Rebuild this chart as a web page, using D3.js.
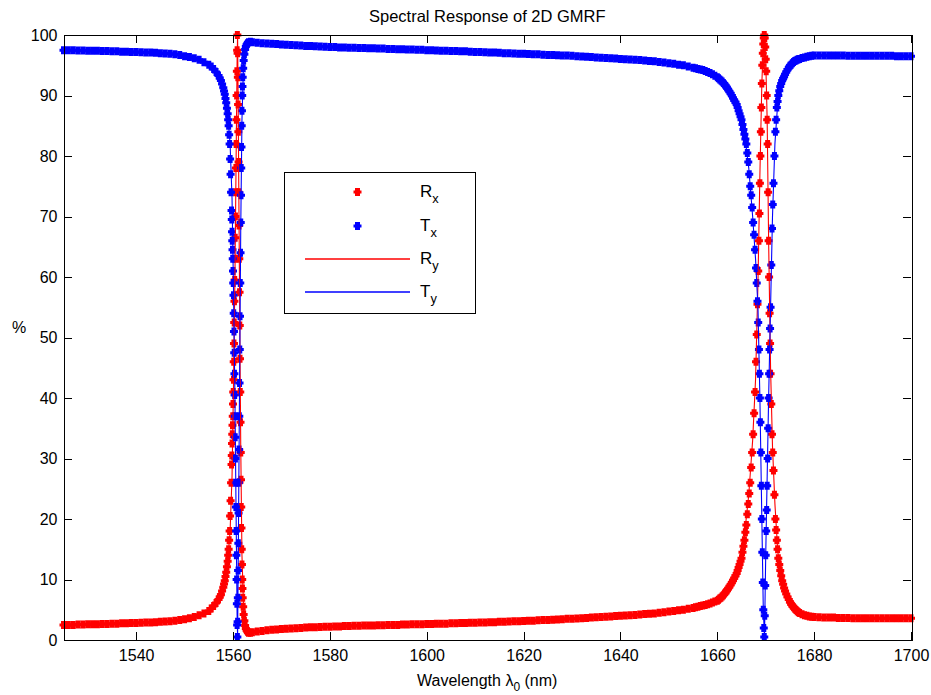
<!DOCTYPE html>
<html>
<head>
<meta charset="utf-8">
<script src="https://cdn.jsdelivr.net/npm/d3@7"></script>
<style>
  html, body { margin: 0; padding: 0; background: #ffffff; }
  svg { display: block; font-family: "Liberation Sans", Arial, Helvetica, sans-serif; }
</style>
</head>
<body>
<svg id="chart" width="931" height="695"></svg>
<script>
// ---------------- DATA ----------------
const chartTitle = "Spectral Response of 2D GMRF";
const xTicks = [1540, 1560, 1580, 1600, 1620, 1640, 1660, 1680, 1700];
const yTicks = [0, 10, 20, 30, 40, 50, 60, 70, 80, 90, 100];
const xDomain = [1525, 1700];
const yDomain = [0, 100];

// sampled wavelengths (nm) for the x-polarisation (markers)
const wavelength = [
  1525,1526,1527,1528,1529,1530,1531,1532,1533,1534,
  1535,1536,1537,1538,1539,1540,1541,1542,1543,1544,
  1545,1546,1547,1548,1549,1550,1551,1552,1553,1554,
  1555,
  1555.5,1556,1556.5,1557,1557.25,1557.5,1557.75,1558,1558.15,1558.3,
  1558.45,1558.6,1558.75,1558.9,1559,1559.1,1559.2,1559.3,1559.4,1559.5,
  1559.6,
  1559.7,1559.75,1559.8,1559.85,1559.9,1559.95,1560,1560.05,1560.1,1560.15,
  1560.2,1560.25,1560.3,1560.35,1560.4,1560.45,1560.5,1560.55,1560.6,1560.65,
  1560.7,1560.75,1560.8,1560.85,1560.9,1560.95,1561,1561.05,1561.1,1561.15,
  1561.2,1561.25,1561.3,1561.35,1561.4,1561.45,1561.5,1561.55,1561.6,1561.65,
  1561.7,1561.75,1561.8,1561.85,1561.9,
  1561.95,1562,1562.1,1562.2,1562.35,1562.5,1562.65,1562.8,1563,1563.2,
  1563.6,
  1564,1565,1566,1567,1568,1569,1570,1571,1572,1573,
  1574,1575,1576,1577,1578,1579,1580,1581,1582,1583,
  1584,1585,1586,1587,1588,1589,1590,1591,1592,1593,
  1594,1595,1596,1597,1598,1599,1600,1601,1602,1603,
  1604,1605,1606,1607,1608,1609,1610,1611,1612,1613,
  1614,1615,1616,1617,1618,1619,1620,1621,1622,1623,
  1624,1625,1626,1627,1628,1629,1630,1631,1632,1633,
  1634,1635,1636,1637,1638,1639,1640,1641,1642,1643,
  1644,1645,1646,1647,1648,1649,1650,1651,1652,1653,
  1654,
  1655,1655.5,1656,1656.5,1657,1657.5,1658,1658.5,1659,1659.5,
  1660,1660.25,1660.5,1660.75,1661,1661.25,1661.5,1661.75,1662,1662.25,
  1662.5,1662.75,1663,1663.25,1663.5,1663.75,1664,1664.2,1664.4,1664.6,
  1664.8,1665,1665.2,1665.4,1665.6,1665.8,1666,1666.2,1666.4,1666.6,
  1666.8,1667,1667.2,1667.4,1667.6,1667.8,1668,1668.15,1668.3,1668.45,
  1668.6,1668.7,1668.8,1668.9,1669,1669.1,1669.2,1669.3,1669.4,1669.5,
  1669.6,1669.7,1669.8,1669.9,1670,1670.1,1670.2,1670.3,1670.4,1670.5,
  1670.6,1670.7,1670.8,1670.9,1671,
  1671.15,1671.3,1671.45,1671.6,1671.8,1672,1672.15,1672.3,1672.45,1672.6,
  1672.8,1673,1673.2,1673.4,1673.6,1673.8,1674,1674.25,1674.5,1674.75,
  1675,1675.25,1675.5,1675.75,1676,1676.25,1676.5,1676.75,1677,1677.5,
  1678,1678.5,1679,1679.5,1680,
  1681,1682,1683,1684,1685,1686,1687,1688,1689,1690,
  1691,1692,1693,1694,1695,1696,1697,1698,1699,1700
];

// Rx (%) reflectance, x-polarisation
const rx = [
  2.5,2.5,2.5,2.55,2.55,2.6,2.6,2.6,2.65,2.65,
  2.7,2.7,2.75,2.75,2.8,2.8,2.85,2.9,2.9,2.95,
  3.0,3.05,3.1,3.2,3.3,3.45,3.6,3.8,4.1,4.4,
  4.8,
  5.2,5.6,6.1,6.7,7.1,7.5,8.1,8.7,9.25,9.8,
  10.5,11.2,12.1,13,14,15,16.5,18,20.5,23,
  26,
  29,30.5,32.5,34,35.5,37,39,41,43,46,
  49,52.5,56,59.5,63,66.5,70,74,78,82,
  86,90,94,97.5,100,97,93,88.5,84,79,
  74,68.5,63,57.5,52,46.5,41,36,31,26.5,
  22,18.5,15,12.5,10,
  8.5,7,5.5,4.2,3.2,2.4,1.9,1.6,1.35,1.2,
  1.2,
  1.3,1.4,1.5,1.6,1.7,1.75,1.8,1.85,1.9,1.95,
  2.0,2.05,2.1,2.1,2.15,2.2,2.2,2.25,2.25,2.3,
  2.3,2.35,2.35,2.4,2.4,2.4,2.45,2.45,2.5,2.5,
  2.5,2.55,2.55,2.6,2.6,2.6,2.65,2.65,2.7,2.7,
  2.7,2.75,2.75,2.8,2.8,2.85,2.85,2.9,2.9,2.95,
  2.95,3.0,3.0,3.05,3.1,3.1,3.15,3.2,3.2,3.25,
  3.3,3.3,3.35,3.4,3.45,3.5,3.5,3.55,3.6,3.65,
  3.7,3.75,3.8,3.85,3.9,3.95,4.0,4.05,4.1,4.15,
  4.2,4.3,4.35,4.4,4.5,4.6,4.7,4.8,4.9,5.0,
  5.15,
  5.3,5.4,5.5,5.6,5.7,5.8,5.9,6.05,6.2,6.35,
  6.5,6.65,6.85,7.0,7.2,7.4,7.7,7.95,8.2,8.5,
  8.8,9.15,9.5,9.85,10.2,10.6,11,11.5,12,12.5,
  13,13.5,14.5,15.5,16.5,17.8,19,20.8,22.5,24.2,
  26,28.5,31,34,37.5,41,46,50.5,55.5,61,
  66,70.5,75.5,80,84,88,92,95,97,98.5,
  99.5,100,99.5,98,96,94,90,86,82,74,
  66,60,54,49,44,
  39,34,31,28,24,20,18.2,16.5,15,13.5,
  12.5,11.5,10.6,9.8,9.2,8.6,8.1,7.6,7.1,6.7,
  6.3,5.95,5.65,5.4,5.15,4.95,4.75,4.6,4.45,4.25,
  4.1,4.0,3.9,3.85,3.8,
  3.75,3.7,3.7,3.7,3.65,3.65,3.65,3.6,3.6,3.6,
  3.6,3.6,3.6,3.6,3.6,3.6,3.6,3.6,3.6,3.6
];

// Tx (%) transmittance, x-polarisation
const tx = [
  97.5,97.5,97.5,97.45,97.45,97.4,97.4,97.4,97.35,97.35,
  97.3,97.3,97.25,97.25,97.2,97.2,97.15,97.1,97.1,97.05,
  97.0,96.95,96.9,96.8,96.7,96.5,96.35,96.15,95.9,95.5,
  95.1,
  94.8,94.4,93.9,93.3,92.9,92.5,91.9,91.3,90.75,90.2,
  89.5,88.8,87.9,87,86,85,83.5,82,79.5,77,
  74,
  71,69.5,67.5,66,64.5,63,61,59,57,54,
  51,47.5,44,40.5,37,33.5,30,26,22,18,
  14,10,6,2.5,0.5,3,7,11.5,16,21,
  26,31.5,37,42.5,48,53.5,59,64,69,73.5,
  78,81.5,85,87.5,90,
  91.5,93,94.5,95.8,96.8,97.6,98.1,98.4,98.65,98.8,
  98.9,
  98.8,98.7,98.65,98.6,98.55,98.5,98.45,98.4,98.35,98.3,
  98.25,98.2,98.2,98.15,98.1,98.05,98.0,98.0,97.95,97.95,
  97.9,97.9,97.85,97.85,97.8,97.8,97.75,97.75,97.7,97.7,
  97.65,97.65,97.6,97.6,97.55,97.55,97.5,97.5,97.45,97.4,
  97.4,97.35,97.35,97.3,97.3,97.25,97.2,97.2,97.15,97.1,
  97.1,97.05,97.0,97.0,96.95,96.9,96.9,96.85,96.8,96.8,
  96.75,96.7,96.7,96.65,96.6,96.6,96.55,96.5,96.45,96.4,
  96.35,96.3,96.25,96.2,96.15,96.1,96.05,96.0,95.95,95.9,
  95.85,95.8,95.7,95.65,95.55,95.45,95.35,95.25,95.1,95.0,
  94.8,
  94.6,94.5,94.4,94.3,94.2,94.05,93.9,93.7,93.5,93.25,
  93.0,92.85,92.65,92.5,92.3,92.05,91.8,91.55,91.3,91.0,
  90.65,90.35,90.0,89.6,89.2,88.9,88.5,88.0,87.5,87.0,
  86.5,86.0,85.2,84.4,83.6,82.8,82.0,80.5,79,77,
  75,73.5,71.5,69,67,64.5,61.5,59,56,52.5,
  48,44,40,36,31,25.5,20,14.5,9.5,5,
  2,0.5,4,9,14,18,21.5,25.5,30,35,
  40,44,48,51.5,55,
  62,68,72,75.5,80,84,86,88,89,90,
  90.8,91.5,92,92.5,92.8,93.1,93.5,93.9,94.3,94.6,
  94.9,95.1,95.35,95.55,95.7,95.8,95.9,96.0,96.05,96.2,
  96.3,96.4,96.5,96.55,96.6,
  96.6,96.6,96.6,96.6,96.6,96.6,96.55,96.55,96.55,96.55,
  96.55,96.55,96.55,96.55,96.55,96.55,96.5,96.5,96.5,96.5
];

// y-polarisation (solid lines), coarser sampling
const wavelengthY = [
  1525,1530,1535,1540,1545,1550,1553,1555,1557,1558,
  1558.8,1559.4,1559.8,1560.1,1560.4,1560.65,1560.85,1560.95,1561.1,1561.35,
  1561.6,1561.85,1562.2,1562.8,1563.5,1565,1570,1580,1590,1600,
  1610,1620,1630,1640,1645,1650,1655,1658,1660,1662,
  1664,1665.5,1666.5,1667.3,1667.9,1668.4,1668.8,1669.2,1669.5,1669.75,
  1670,1670.3,1670.6,1671,1671.4,1671.9,1672.5,1673.5,1675,1677,
  1680,1685,1690,1695,1700
];
const ry = [
  2.5,2.6,2.7,2.8,3.0,3.5,4.0,4.7,6.6,8.7,
  12,18,27,42,60,80,96,100,85,58,
  32,14,5,1.6,1.2,1.4,1.8,2.2,2.45,2.65,
  2.85,3.15,3.5,4.0,4.3,4.7,5.3,5.9,6.5,8.2,
  11,16.5,24,33,43,59,77,92,98.5,100,
  96,86,66,45,32,22.5,14.5,10,5.8,4.4,
  3.8,3.7,3.65,3.6,3.6
];
const ty = [
  97.5,97.4,97.3,97.2,97.0,96.5,96.0,95.3,93.4,91.3,
  88,82,73,58,40,20,4,0.5,15,42,
  68,86,95.8,98.4,98.8,98.7,98.4,98.0,97.8,97.6,
  97.3,97.0,96.7,96.3,96.0,95.4,94.8,94.2,93.5,92,
  88.8,84.5,78,70,63,55,40,20,5,0.5,
  14,27,40,55,70,82,89,92.5,95,96,
  96.6,96.6,96.5,96.5,96.5
];

const legendItems = [
  {main: "R", sub: "x", color: "#ff0000", kind: "marker"},
  {main: "T", sub: "x", color: "#0000ff", kind: "marker"},
  {main: "R", sub: "y", color: "#ff0000", kind: "line"},
  {main: "T", sub: "y", color: "#0000ff", kind: "line"}
];

// ---------------- DRAW ----------------
const svg = d3.select("#chart");
const plot = {left: 63.5, right: 911, top: 35, bottom: 640};
const x = d3.scaleLinear().domain(xDomain).range([plot.left, plot.right]);
const y = d3.scaleLinear().domain(yDomain).range([plot.bottom, plot.top]);

const FS = 16;

const n1 = Math.min(wavelength.length, rx.length, tx.length);
const ptsRx = d3.range(n1).map(i => [wavelength[i], rx[i]]);
const ptsTx = d3.range(n1).map(i => [wavelength[i], tx[i]]);
const n2 = Math.min(wavelengthY.length, ry.length, ty.length);
const ptsRy = d3.range(n2).map(i => [wavelengthY[i], ry[i]]);
const ptsTy = d3.range(n2).map(i => [wavelengthY[i], ty[i]]);

svg.append("defs").append("clipPath").attr("id", "clip")
  .append("rect")
  .attr("x", plot.left - 5).attr("y", plot.top - 5)
  .attr("width", plot.right - plot.left + 10).attr("height", plot.bottom - plot.top + 10);

// MATLAB-like '.' marker (rounded plus, ~8 x 8 px)
const MARK = "M-4,-1.5H-2.5V-4H2.5V-1.5H4V1.5H2.5V4H-2.5V1.5H-4Z";

const dataG = svg.append("g").attr("clip-path", "url(#clip)");
dataG.append("g").selectAll("path").data(ptsRx).join("path")
  .attr("d", MARK)
  .attr("transform", d => `translate(${x(d[0])},${y(d[1])})`)
  .attr("fill", "#ff0000");
dataG.append("g").selectAll("path").data(ptsTx).join("path")
  .attr("d", MARK)
  .attr("transform", d => `translate(${x(d[0])},${y(d[1])})`)
  .attr("fill", "#0000ff");

const line = d3.line().x(d => x(d[0])).y(d => y(d[1]));
dataG.append("path").datum(ptsRy).attr("d", line)
  .attr("fill", "none").attr("stroke", "#ff0000").attr("stroke-width", 1.1);
dataG.append("path").datum(ptsTy).attr("d", line)
  .attr("fill", "none").attr("stroke", "#0000ff").attr("stroke-width", 1.1);

// axes
const TL = 8;
const axB = d3.axisBottom(x).tickValues(xTicks).tickFormat(d3.format("d"))
  .tickSizeInner(-TL).tickSizeOuter(0).tickPadding(10);
const axT = d3.axisTop(x).tickValues(xTicks).tickFormat("")
  .tickSizeInner(-TL).tickSizeOuter(0);
const axL = d3.axisLeft(y).tickValues(yTicks).tickFormat(d3.format("d"))
  .tickSizeInner(-TL).tickSizeOuter(0).tickPadding(6);
const axR = d3.axisRight(y).tickValues(yTicks).tickFormat("")
  .tickSizeInner(-TL).tickSizeOuter(0);

function styleAxis(g) {
  g.select(".domain").remove();
  g.selectAll(".tick line").attr("stroke", "#000").attr("shape-rendering", "crispEdges");
  g.selectAll(".tick text").attr("fill", "#000").attr("font-size", FS)
    .attr("font-family", "'Liberation Sans', Arial, sans-serif");
}
svg.append("g").attr("transform", `translate(0,${plot.bottom})`).call(axB).call(styleAxis);
svg.append("g").attr("transform", `translate(0,${plot.top})`).call(axT).call(styleAxis);
svg.append("g").attr("transform", `translate(${plot.left},0)`).call(axL).call(styleAxis);
svg.append("g").attr("transform", `translate(${plot.right},0)`).call(axR).call(styleAxis);

svg.append("rect")
  .attr("x", Math.round(plot.left) + 0.5).attr("y", plot.top + 0.5)
  .attr("width", Math.round(plot.right - plot.left)).attr("height", plot.bottom - plot.top)
  .attr("fill", "none").attr("stroke", "#000").attr("stroke-width", 1);

// title
svg.append("text")
  .attr("x", (plot.left + plot.right) / 2).attr("y", 22)
  .attr("text-anchor", "middle").attr("font-size", FS + 0.5).attr("fill", "#000")
  .text(chartTitle);

// x label
const xl = svg.append("text")
  .attr("x", (plot.left + plot.right) / 2).attr("y", 686)
  .attr("text-anchor", "middle").attr("font-size", FS).attr("fill", "#000");
xl.append("tspan").text("Wavelength \u03bb");
xl.append("tspan").attr("font-size", FS * 0.75).attr("dy", 5).text("0");
xl.append("tspan").attr("dy", -5).text(" (nm)");

// y label
svg.append("text")
  .attr("x", 19).attr("y", 333)
  .attr("text-anchor", "middle").attr("font-size", FS).attr("fill", "#000")
  .text("%");

// legend
const lg = {x: 284, y: 172, w: 191, h: 141};
svg.append("rect")
  .attr("x", lg.x + 0.5).attr("y", lg.y + 0.5).attr("width", lg.w).attr("height", lg.h)
  .attr("fill", "#fff").attr("stroke", "#000").attr("stroke-width", 1);
const rowY = [192, 226, 259, 292];
legendItems.forEach((it, i) => {
  const cy = rowY[i];
  if (it.kind === "marker") {
    svg.append("path").attr("d", MARK)
      .attr("transform", `translate(357.5,${cy})`).attr("fill", it.color);
  } else {
    svg.append("line").attr("x1", 305).attr("x2", 410).attr("y1", cy).attr("y2", cy)
      .attr("stroke", it.color).attr("stroke-width", 1.4);
  }
  const t = svg.append("text").attr("x", 420).attr("y", cy + 5)
    .attr("font-size", FS + 1).attr("fill", "#000");
  t.append("tspan").text(it.main);
  t.append("tspan").attr("font-size", FS * 0.8).attr("dy", 6).text(it.sub);
});
</script>
</body>
</html>
